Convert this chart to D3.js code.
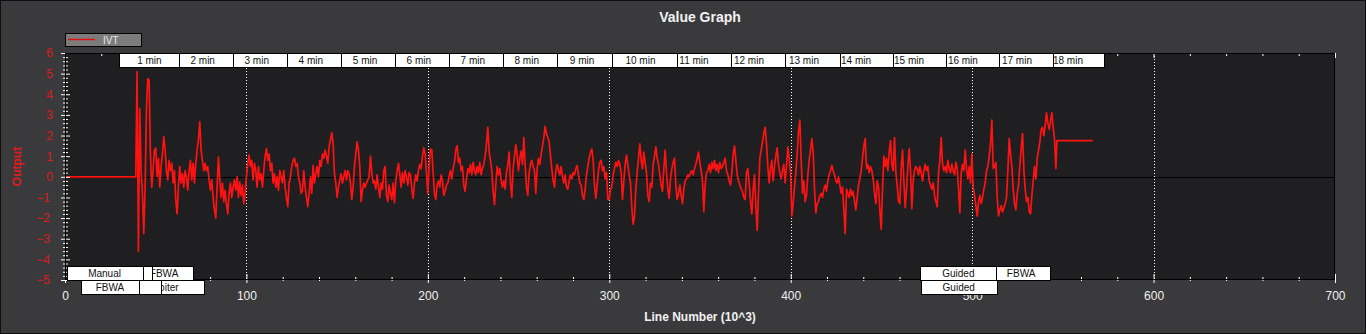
<!DOCTYPE html>
<html>
<head>
<meta charset="utf-8">
<script src="https://cdn.jsdelivr.net/npm/d3@7"></script>
<style>
  html, body { margin: 0; padding: 0; background: #3a3a3c; }
  svg { display: block; font-family: "Liberation Sans", Arial, sans-serif; }
</style>
</head>
<body>
<svg id="chart" width="1366" height="334"></svg>
<script>
// IVT output, sampled every ivtStep thousand log lines from ivtFirstLine
const ivtFirstLine = 39;
const ivtStep = 0.735;
const ivtValues = [
  0, 5.1, -3.6, 3.3, 0.3, -0.8, -2.75, -0.6, 3.2, 4.75, 4.7,
  1.1, -0.5, 0.3, 1.3, 1.4, 0, 0.9, -0.5, 0.5,
  1.1, 1.95, 1.3, 0.3, -0.15, 0.8, 0.3, 0.65, -0.3,
  0.3, -1.1, -1.8, -0.5, 0.5, -0.3, 0.15, -0.5, 0.3, 0,
  -0.65, 0.3, 0.8, -0.15, 0.65, -0.3, 0.65, 1.3, 1.8,
  2.67, 1.3, 0.8, 0.3, 0.65, 0.3, 0.5, -0.15, -0.65,
  -0.15, -1.0, -1.6, -2.0, -0.5, 0.95, -0.15, -1.0, -0.3,
  -1.2, -0.65, -1.3, -1.8, -0.8, -0.3, -1.0, -0.5, -0.15, -0.65,
  0, -1.0, -0.25, -0.9, -0.4, -1.3, -0.8, 0, 0.65, 1.05,
  0.5, 0.8, -0.15, 0.65, 0.3, -0.5, 0.5, -0.15, 0.15, -0.5,
  0.3, 1.0, 1.37, 0.8, 1.1, 0.3, 0.65, -0.3, 0.15, -0.5,
  0, -0.65, 0.3, 0, -0.3, 0.3, -0.5, -1.0, -1.45, -0.3,
  0, 0.5, 0.8, 0.9, 0.5, 0.65, 0, -0.3, -0.8, -0.65,
  0.3, -0.5, -1.0, -1.45, -0.8, 0, -0.8, 0.55, -0.3, 0.15,
  0.5, 0, 0.8, 0.5, 1.1, 0.9, 1.3, 1.0, 0.65, 1.45,
  1.8, 2.14, 1.6, 0.15, -0.3, -1.0, -0.5, -0.15, 0.15, -0.3,
  0, 0.3, -0.15, 0.3, 0.15, -0.3, -1.1, -0.5, 0.5, 1.1,
  1.7, 1.3, 0.5, -1.2, -0.65, -0.3, -0.5, -0.3, -0.15, 0,
  // 170k - 300k
  1.0, 0.2, -0.3, -0.2, -0.6, 0.1, -0.5, -1.0, -0.3, -0.6,
  0.3, 0.5, -0.9, -1.2, -0.4, -0.8, -1.1, -0.3, -1.25, -0.2,
  0.3, 0.65, 0.1, -0.5, 0.2, -0.3, 0.3, 0, -0.4, 0.2,
  0.1, -0.6, -1.05, -0.3, 0.1, -0.2, 0.3, 0.6, 0.4, 1.0,
  1.4, 1.1, 0.2, -0.8, 0.5, 1.35, 1.3, 0.2, -0.8, -1.1,
  -0.4, -0.2, -0.5, 0.1, -0.2, -0.9, -0.7, -0.4, -0.3, 0,
  0.3, -0.1, 0.4, 0.7, 1.3, 1.5, 0.7, 0.9, 0.3, 0.5,
  -0.4, -0.7, -0.1, 0.4, 0.2, 0.6, 0.1, 0.7, 0.3, 0.1,
  0.5, 0.2, 0.7, 0.1, 0.4, 0.6, 1.0, 1.6, 2.4, 1.2,
  0.8, 0.3, -0.7, -1.35, -0.4, 0.5, 0.1, 0.4, -0.2, -0.5,
  -0.2, -0.6, 0.2, 0.6, 1.2, -0.3, -1.0, 0.4, 1.0, 1.55,
  1.0, 0.3, 0.9, 1.25, 0.6, 1.9, 0.6, -0.5, -0.9, 0.2,
  0.6, 0.8, 0.5, 0.3, -0.8, 0.4, 0.9, 0.6, 1.1, 1.5,
  1.9, 2.45, 2.1, 1.9, 1.7, 1.0, 0.4, -0.2, -0.5, 0.3,
  0.6, 0.3, 0.1, 0.5, 0, -0.3, 0.1, -0.5, -0.6, -0.2,
  0.1, -0.1, 0.2, 0.1, 0.4, 0.55, 0.1, -0.3, -0.4, -0.9,
  -1.1, -0.6, 0.1, 0.5, 0.9, 1.2, 1.35, 0.8, -0.4, -1.05,
  -0.4, 0.3, 0.7, 0.8, 0.3, 0.5, -0.1, 0.2, -1.1,
  // 300k - 433k
  -1.1, -0.6, -0.5, 0.1, 0.4, 0.7, 0.5, 0.8, 0.6, 0.2,
  -1.1, -0.2, 0.6, 1.05, 0.6, 0.1, -0.3, -1.5, -2.3, -1.9,
  -0.6, 0.2, 0.9, 1.6, 0.8, 0.4, 1.2, 0.7, 0.2, -0.9,
  -1.2, -0.3, -0.5, 0.6, 1.0, 1.45, 0.9, 0.6, 0.1, -0.4,
  -0.7, 0.4, 1.3, 0.2, -0.6, -1.05, -0.1, 0.4, 0.7, 0.9,
  -0.4, -1.1, -0.8, -0.4, -0.9, -1.3, -0.6, -0.2, -0.1, 0.1,
  0, 0.2, 0.3, 0.1, 0.4, 0.6, 0.9, 1.2, 0.7, 0.3,
  -0.2, -1.7, -0.4, 0.2, 0.3, 0.6, 0.2, 0.7, 0.4, 0.8,
  0.3, 0.6, 0.2, 0.7, 0.4, 0.5, 0.7, 0.9, 0.3, 0.1,
  -0.2, -0.4, 0.2, 1.1, 1.5, 0.8, 0.1, -0.2, -0.4, -0.6,
  -0.7, -1.0, -1.1, 0.2, 0.4, -0.3, -1.2, -1.8, -0.6, 0.1,
  -1.4, -2.6, -0.8, 0.9, 1.3, 1.7, 2.1, 2.4, 1.6, 0.5,
  -0.3, 0.4, 0.8, -0.2, 0.5, 1.0, 1.4, 0.6, 0.2, -0.1,
  0.3, 0.6, -0.3, 0.5, 1.45, 0.9, 0.2, -1.9, -1.3, -0.5,
  0.2, 1.1, 2.2, 2.75, 0.8, -0.8, -0.2, -1.2, -0.9, 0.1,
  0.8, 1.3, 1.85, 1.2, -0.6, -1.75, -1.3, -1.2, -0.9, -0.8,
  -1.0, -0.6, -0.4, -0.7, -0.2, 0.1, 0.3, 0.55, 0.3, 0.1,
  -0.2, -0.3, 0, -0.4, -0.8, -0.5, -1.6, -2.75, -0.6, -0.8,
  -1.0,
  // 433k - 546k
  -0.6, -0.9, -0.7, -1.2, -1.6, -1.0, -0.4, -0.1, 0.3, 0.9,
  1.5, 1.85, 0.4, 0.6, 0.2, 0.5, 0.3, -0.1, -0.8, -1.3,
  -0.2, -0.5, -1.6, -2.55, -0.6, 1.0, 0.5, 0.9, 0.3, 1.2,
  1.75, 0.6, 0.3, 1.9, 0.2, -0.4, -1.2, -1.3, 0.4, 1.3,
  -0.2, -1.5, -0.6, 0.5, 1.35, 0.3, -1.55, -0.2, 0.3, 0.5,
  0.4, 0.1, 0.5, 0.2, -0.2, 0.3, 0.6, 0.3, 0.5, -0.2,
  -0.4, -0.6, -0.3, -0.9, -1.2, -1.45, 0.2, 0.8, 1.9, 0.6,
  0.3, 0.5, 0.2, 0.8, 0.4, 0.2, 0.6, 0.3, 0.1, 0.7,
  0.4, -0.6, -1.75, 0.2, 0.6, 0.3, 1.3, 0.4, -0.1, 0.5,
  -0.3, 1.1, -0.5, -0.9, -1.4, -1.9, -1.2, -0.9, -1.3, -1.0,
  -0.6, -0.3, 0.3, 0.5, 1.0, 1.6, 2.75, 0.4, 0.5, 0.7,
  -1.0, -1.9, -1.6, -1.4, -1.7, -1.5, -1.3, -1.0, 0.3, 1.85,
  1.1, 0.5, -0.6, -1.3, -1.6, -0.8, -0.4, 0.6, 1.4, 2.1,
  0.3, -0.6, -1.2, -1.0, -1.7, -1.8, -0.9, -0.2, 0.5, -0.1,
  0.9, 1.3, 1.7, 2.3, 2.4, 2.0, 2.5, 3.1, 2.6, 2.3,
  2.7, 3.1, 2.4, 1.8, 0.4
];
// flat stretches around the sampled section: [line (10^3), output]
const ivtLead = [[0, 0]];
const ivtTail = [[546.7, 1.75], [566.5, 1.75]];

// elapsed-time markers along the top edge
const minuteLabels = ["1 min", "2 min", "3 min", "4 min", "5 min", "6 min", "7 min", "8 min", "9 min",
  "10 min", "11 min", "12 min", "13 min", "14 min", "15 min", "16 min", "17 min", "18 min"];
const minuteLines = [46.5, 75.9, 105.7, 135.5, 165.4, 195.0, 224.8, 254.5, 285.0,
  317.2, 346.7, 377.0, 407.3, 436.0, 465.2, 494.9, 524.7, 552.8];

// flight mode changes along the bottom edge
const modeNames = ["Manual", "FBWA", "FBWA", "Manual", "FBWA", "Loiter", "Guided", "Guided", "FBWA"];
const modeLines = [21.8, 24.8, 32.0, 32.0, 54.6, 55.7, 492.4, 492.6, 527.0];

const xTicks = [0, 100, 200, 300, 400, 500, 600, 700];
const yTicks = [-5, -4, -3, -2, -1, 0, 1, 2, 3, 4, 5, 6];
const xDomain = [0, 700];
const yDomain = [-5, 6];

const W = 1366, H = 334;
const plot = { left: 65, top: 53, right: 1335, bottom: 280 };
const svg = d3.select("#chart");

const x = d3.scaleLinear().domain(xDomain).range([plot.left, plot.right]);
const y = d3.scaleLinear().domain(yDomain).range([plot.bottom, plot.top]);

// outer panel
svg.append("rect").attr("x", 0.5).attr("y", 0.5).attr("width", W - 1).attr("height", H - 1)
  .attr("fill", "#3a3a3c").attr("stroke", "#0e0e0e");

// title
svg.append("text").attr("x", (plot.left + plot.right) / 2).attr("y", 22)
  .attr("text-anchor", "middle").attr("font-size", 14).attr("font-weight", "bold")
  .attr("fill", "#f2f2f2").text("Value Graph");

// plot background
svg.append("rect").attr("x", plot.left).attr("y", plot.top)
  .attr("width", plot.right - plot.left).attr("height", plot.bottom - plot.top)
  .attr("fill", "#1f1f21");

// dotted vertical grid
svg.append("g").selectAll("line").data(xTicks.filter(d => d > xDomain[0] && d < xDomain[1]))
  .join("line")
  .attr("x1", d => Math.round(x(d)) + 0.5).attr("x2", d => Math.round(x(d)) + 0.5)
  .attr("y1", plot.top).attr("y2", plot.bottom)
  .attr("stroke", "#ffffff").attr("stroke-width", 1).attr("stroke-dasharray", "1,2");

// zero line
svg.append("line").attr("x1", plot.left).attr("x2", plot.right)
  .attr("y1", Math.round(y(0)) + 0.5).attr("y2", Math.round(y(0)) + 0.5)
  .attr("stroke", "#000000").attr("stroke-width", 1);

// IVT series
const ivtPoints = ivtLead
  .concat(ivtValues.map((v, i) => [ivtFirstLine + i * ivtStep, v]))
  .concat(ivtTail);
const line = d3.line().x(d => x(d[0])).y(d => y(d[1]));
svg.append("path").datum(ivtPoints).attr("d", line)
  .attr("fill", "none").attr("stroke", "#ff1212").attr("stroke-width", 1.7)
  .attr("stroke-linejoin", "round");

// y axis: major + minor ticks crossing the left edge
const yAxis = d3.axisLeft(y).tickValues(yTicks).tickSize(4).tickPadding(8).tickFormat(d3.format("d"));
const gy = svg.append("g").attr("transform", `translate(${plot.left},0)`).call(yAxis);
gy.select(".domain").remove();
gy.selectAll(".tick line").attr("x1", 5).attr("x2", -4).attr("stroke", "#ffffff");
gy.selectAll(".tick text").attr("fill", "#dc1c1c").attr("font-size", 12)
  .attr("font-family", "Liberation Sans, Arial, sans-serif")
  .attr("dx", d => d < 0 ? -3 : 0);
const yMinor = d3.range(yDomain[0], yDomain[1] + 0.001, 0.2).filter(v => Math.abs(v - Math.round(v)) > 0.01);
const gym = svg.append("g").attr("transform", `translate(${plot.left},0)`)
  .call(d3.axisLeft(y).tickValues(yMinor).tickSize(2).tickFormat(""));
gym.select(".domain").remove();
gym.selectAll(".tick line").attr("x1", 3).attr("x2", -2).attr("stroke", "#ffffff");

// x axis: labels below, ticks on bottom and top edges
const xAxis = d3.axisBottom(x).tickValues(xTicks).tickSize(4).tickPadding(7.5);
const gx = svg.append("g").attr("transform", `translate(0,${plot.bottom})`).call(xAxis);
gx.select(".domain").remove();
gx.selectAll(".tick line").attr("y1", -6).attr("y2", 3).attr("stroke", "#ffffff");
gx.selectAll(".tick text").attr("fill", "#f0f0f0").attr("font-size", 12)
  .attr("font-family", "Liberation Sans, Arial, sans-serif");
const xMinor = d3.range(xDomain[0], xDomain[1] + 0.001, 20).filter(v => v % 100 !== 0);
const gxm = svg.append("g").attr("transform", `translate(0,${plot.bottom})`)
  .call(d3.axisBottom(x).tickValues(xMinor).tickSize(2).tickFormat(""));
gxm.select(".domain").remove();
gxm.selectAll(".tick line").attr("y1", -3).attr("y2", 1).attr("stroke", "#ffffff");
const gxt = svg.append("g").attr("transform", `translate(0,${plot.top})`)
  .call(d3.axisTop(x).tickValues(xMinor.concat(xTicks)).tickSize(0).tickFormat(""));
gxt.select(".domain").remove();
gxt.selectAll(".tick line").attr("y1", 0).attr("y2", d => d % 100 === 0 ? 5 : 3).attr("stroke", "#ffffff");

// plot frame
svg.append("rect").attr("x", plot.left + 0.5).attr("y", plot.top + 0.5)
  .attr("width", plot.right - plot.left - 1).attr("height", plot.bottom - plot.top - 1)
  .attr("fill", "none").attr("stroke", "#000000");

// axis titles
svg.append("text").attr("x", (plot.left + plot.right) / 2).attr("y", 321)
  .attr("text-anchor", "middle").attr("font-size", 12).attr("font-weight", "bold")
  .attr("fill", "#f2f2f2").text("Line Number (10^3)");
svg.append("text").attr("transform", `translate(21,${(plot.top + plot.bottom) / 2}) rotate(-90)`)
  .attr("text-anchor", "middle").attr("font-size", 12).attr("font-weight", "bold")
  .attr("fill", "#dc1c1c").text("Output");

// boxed labels; earlier labels sit on top of later ones, so a label whose
// text falls entirely under an earlier box in the same row shows only its box
function boxedLabels(names, lines, rowTop, boxWidth) {
  const g = svg.append("g");
  const items = names.map((t, i) => {
    const c = x(lines[i]), w = boxWidth(t);
    return { t, i, c, top: rowTop(i), w, left: Math.round(c - w / 2) + 0.5 };
  });
  items.slice().reverse().forEach(d => {
    g.append("rect").attr("x", d.left).attr("y", d.top + 0.5)
      .attr("width", d.w).attr("height", 14)
      .attr("fill", "#ffffff").attr("stroke", "#000000");
    const txt = g.append("text").attr("x", d.c).attr("y", d.top + 10.7)
      .attr("text-anchor", "middle").attr("font-size", 10).attr("fill", "#111111").text(d.t);
    const tw = txt.node().getComputedTextLength();
    const covered = items.some(e => e.i < d.i && e.top === d.top &&
      e.left <= d.c - tw / 2 && e.left + e.w >= d.c + tw / 2);
    if (covered) txt.remove();
  });
}
boxedLabels(minuteLabels, minuteLines, () => plot.top, t => 13 * t.length - 5);
boxedLabels(modeNames, modeLines, i => (i % 2 === 0 ? plot.bottom - 14 : plot.bottom), t => 9 * t.length + 22);

// legend
const lg = svg.append("g");
lg.append("rect").attr("x", 65.5).attr("y", 33.5).attr("width", 76).attr("height", 13)
  .attr("fill", "#7c7c7c").attr("stroke", "#000000");
lg.append("line").attr("x1", 68).attr("x2", 95).attr("y1", 39.5).attr("y2", 39.5)
  .attr("stroke", "#e01010").attr("stroke-width", 1.5);
lg.append("text").attr("x", 103).attr("y", 43.6).attr("font-size", 10)
  .attr("fill", "#e6e6e6").text("IVT");
</script>
</body>
</html>
